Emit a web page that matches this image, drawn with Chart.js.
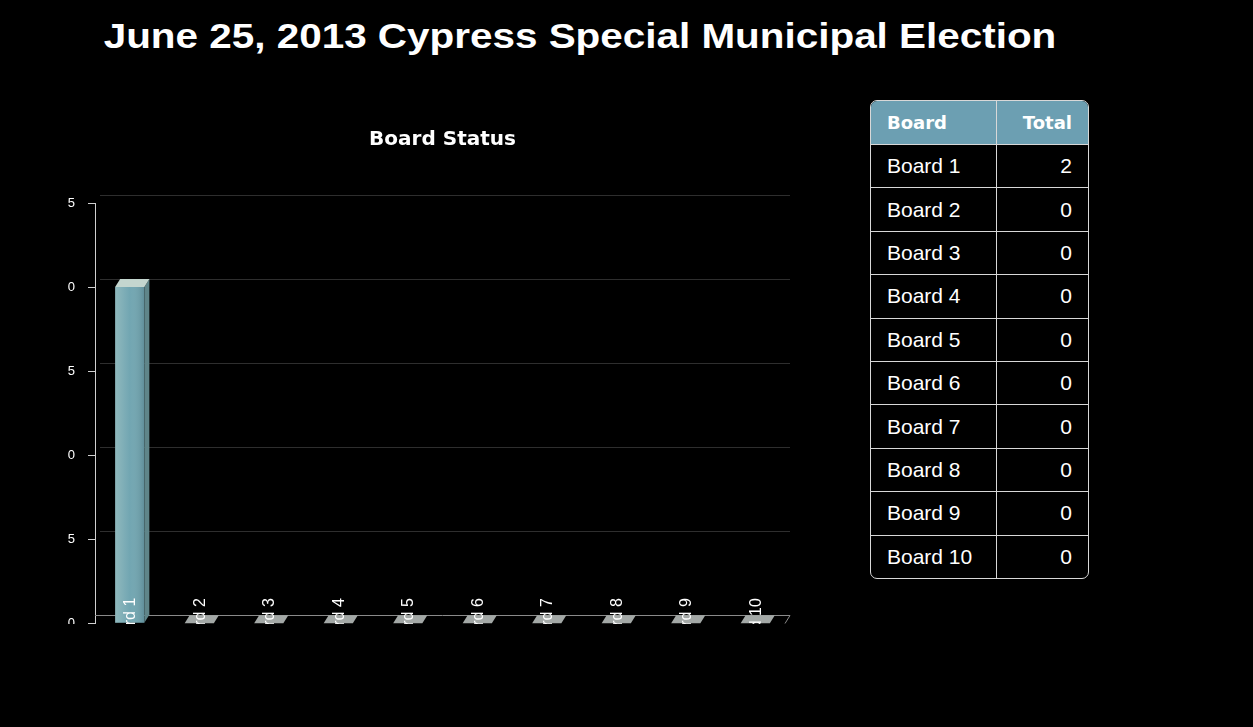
<!DOCTYPE html>
<html>
<head>
<meta charset="utf-8">
<script src="https://cdn.jsdelivr.net/npm/chart.js@4"></script>
<style>
  body { margin: 0; background: #000; width: 1253px; height: 727px; overflow: hidden; position: relative; font-family: "Liberation Sans", Arial, sans-serif; }
  #titulo { position: absolute; left: 580px; top: 18px; transform: translateX(-50%) scaleX(1.155); white-space: nowrap;
            color: #fff; font-weight: bold; font-size: 35px; line-height: 35px; }
  #grafico { position: absolute; left: 20px; top: 100px; clip-path: inset(0 0 20px 47px); }
  #tabla { position: absolute; left: 870px; top: 100px; border-collapse: separate; border-spacing: 0;
           border: 1px solid #d8d8d8; border-radius: 7px; overflow: hidden; color: #fff; width: 219px; }
  #tabla th { background: #6c9fb2; font-family: "DejaVu Sans", sans-serif; font-size: 18px; height: 43px; padding: 0 16px; }
  #tabla td { font-size: 21px; height: 42.4px; padding: 0 16px; border-top: 1px solid #d8d8d8; }
  #tabla th:first-child, #tabla td:first-child { text-align: left; border-right: 1px solid #d8d8d8; width: 93px; }
  #tabla th:last-child, #tabla td:last-child { text-align: right; }
</style>
</head>
<body>
<div id="titulo">June 25, 2013 Cypress Special Municipal Election</div>
<canvas id="grafico" width="800" height="544"></canvas>
<table id="tabla"></table>
<script>
// datos
const tableros = ["Board 1", "Board 2", "Board 3", "Board 4", "Board 5", "Board 6", "Board 7", "Board 8", "Board 9", "Board 10"];
const totales = [2, 0, 0, 0, 0, 0, 0, 0, 0, 0];
const encabezados = ["Board", "Total"];
const ejeMax = 2.5;
const ejePaso = 0.5;

// tabla lateral
let html = "<tr><th>" + encabezados[0] + "</th><th>" + encabezados[1] + "</th></tr>";
tableros.forEach((t, i) => { html += "<tr><td>" + t + "</td><td>" + totales[i] + "</td></tr>"; });
document.getElementById("tabla").innerHTML = html;

const DX = 5, DY = 8; // profundidad 3D

// rejilla de fondo, piso y caras 3D
const fondo3d = {
  id: "fondo3d",
  beforeDatasetsDraw(chart) {
    const { ctx, chartArea: a, scales: { y } } = chart;
    ctx.save();
    ctx.lineWidth = 1;
    ctx.strokeStyle = "#2e2e2e";
    y.ticks.forEach(t => {
      const py = Math.round(y.getPixelForValue(t.value) - DY) + 0.5;
      if (t.value === 0) return;
      ctx.beginPath(); ctx.moveTo(a.left + DX, py); ctx.lineTo(a.right, py); ctx.stroke();
    });
    // piso
    const p0 = Math.round(y.getPixelForValue(0) - DY) + 0.5;
    ctx.strokeStyle = "#8a8a8a";
    ctx.beginPath(); ctx.moveTo(a.left, p0); ctx.lineTo(a.right, p0); ctx.lineTo(a.right - DX, p0 + DY); ctx.stroke();
    ctx.restore();
  },
  afterDatasetsDraw(chart) {
    const { ctx, chartArea: a } = chart;
    const meta = chart.getDatasetMeta(0);
    ctx.save();
    meta.data.forEach(b => {
      const l = b.x - b.width / 2, r = b.x + b.width / 2;
      if (b.base - b.y > 0) {
        // lado
        ctx.fillStyle = "#5f8589";
        ctx.beginPath();
        ctx.moveTo(r, b.y); ctx.lineTo(r + DX, b.y - DY); ctx.lineTo(r + DX, b.base - DY); ctx.lineTo(r, b.base);
        ctx.closePath(); ctx.fill();
        // brillo del frente
        const g = ctx.createLinearGradient(l, 0, r, 0);
        g.addColorStop(0, "rgba(200,220,210,0.35)");
        g.addColorStop(0.5, "rgba(200,220,210,0)");
        g.addColorStop(1, "rgba(40,70,80,0.25)");
        ctx.fillStyle = g;
        ctx.fillRect(l, b.y, b.width, b.base - b.y);
      }
      // tapa
      ctx.fillStyle = b.base - b.y > 0 ? "#c4d6cf" : "#a3a8a6";
      ctx.beginPath();
      ctx.moveTo(l, b.y); ctx.lineTo(l + DX, b.y - DY); ctx.lineTo(r + DX, b.y - DY); ctx.lineTo(r, b.y);
      ctx.closePath(); ctx.fill();
    });
    // etiquetas verticales dentro del area, recortadas en el piso
    ctx.beginPath();
    ctx.rect(a.left, a.top, a.right - a.left, a.bottom - a.top + 1);
    ctx.clip();
    ctx.fillStyle = "#ffffff";
    ctx.font = "16px 'Liberation Sans', sans-serif";
    ctx.textAlign = "right";
    ctx.textBaseline = "middle";
    meta.data.forEach((b, i) => {
      ctx.save();
      ctx.translate(b.x + 1, b.base - 25);
      ctx.rotate(-Math.PI / 2);
      ctx.fillText(tableros[i], 0, 0);
      ctx.restore();
    });
    ctx.restore();
  }
};

new Chart(document.getElementById("grafico"), {
  type: "bar",
  data: {
    labels: tableros,
    datasets: [{
      data: totales,
      backgroundColor: "#72a6b2",
      barPercentage: 0.42,
      categoryPercentage: 1
    }]
  },
  options: {
    responsive: false,
    animation: false,
    layout: { padding: { left: 0, right: 30, top: 0, bottom: 8 } },
    plugins: {
      legend: { display: false },
      tooltip: { enabled: false },
      title: {
        display: true, text: "Board Status", color: "#ffffff", fullSize: false,
        font: { family: "'DejaVu Sans', sans-serif", size: 20, weight: "bold" },
        padding: { top: 28, bottom: 51 }
      }
    },
    scales: {
      x: { display: false },
      y: {
        min: 0, max: ejeMax,
        afterFit(s) { s.width = 75; },
        border: { color: "#d0d0d0" },
        grid: { drawOnChartArea: false, color: "#d0d0d0", tickLength: 7 },
        ticks: { stepSize: ejePaso, color: "#ffffff", padding: 13, font: { size: 13 }, callback: v => v.toFixed(1) }
      }
    }
  },
  plugins: [fondo3d]
});
</script>
</body>
</html>
